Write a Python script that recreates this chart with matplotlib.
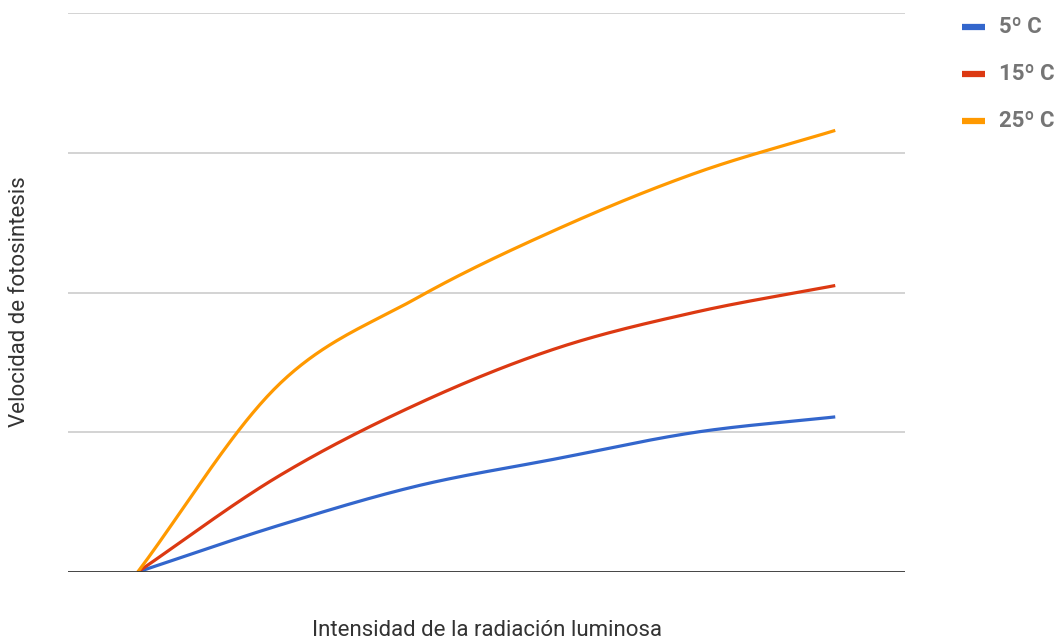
import numpy as np
import matplotlib
matplotlib.use("Agg")
import matplotlib.pyplot as plt
from matplotlib.lines import Line2D

# Light intensity steps (arbitrary units) and photosynthesis rate per temperature
intensity = [0, 1, 2, 3, 4, 5]
series_names = ["5º C", "15º C", "25º C"]
rate_5 = [0, 0.33, 0.615, 0.81, 1.00, 1.11]
rate_15 = [0, 0.68, 1.20, 1.60, 1.86, 2.05]
rate_25 = [0, 1.33, 1.96, 2.45, 2.855, 3.16]
colors = ["#3366cc", "#dc3912", "#ff9900"]

plt.rcParams["font.family"] = ["Roboto", "DejaVu Sans"]


def smooth(x, y, n=40, tension=0.5):
    """Catmull-Rom style smoothing between consecutive points."""
    x = np.asarray(x, float)
    y = np.asarray(y, float)
    xs, ys = [], []
    m = len(x)
    for i in range(m - 1):
        p0 = np.array([x[max(i - 1, 0)], y[max(i - 1, 0)]])
        p1 = np.array([x[i], y[i]])
        p2 = np.array([x[i + 1], y[i + 1]])
        p3 = np.array([x[min(i + 2, m - 1)], y[min(i + 2, m - 1)]])
        t1 = (p2 - p0) * tension
        t2 = (p3 - p1) * tension
        if i == 0:
            t1 = (p2 - p1) * 2 * tension
        if i == m - 2:
            t2 = (p2 - p1) * 2 * tension
        s = np.linspace(0, 1, n, endpoint=(i == m - 2))
        h00 = 2 * s**3 - 3 * s**2 + 1
        h10 = s**3 - 2 * s**2 + s
        h01 = -2 * s**3 + 3 * s**2
        h11 = s**3 - s**2
        pts = (np.outer(h00, p1) + np.outer(h10, t1)
               + np.outer(h01, p2) + np.outer(h11, t2))
        xs.append(pts[:, 0])
        ys.append(pts[:, 1])
    return np.concatenate(xs), np.concatenate(ys)


W, H = 1061, 639
fig = plt.figure(figsize=(W / 100, H / 100), dpi=100)
left, right, top, bottom = 68, 905, 13, 572
ax = fig.add_axes([left / W, 1 - bottom / H, (right - left) / W, (bottom - top) / H])

ax.set_xlim(-0.5, 5.5)
ax.set_ylim(0, 4)

for g in [1, 2, 3, 4]:
    ax.axhline(g, color="#cccccc", lw=1.2, zorder=1)
ax.axhline(0, color="#333333", lw=2.0, zorder=5)

for vals, c in zip([rate_5, rate_15, rate_25], colors):
    sx, sy = smooth(intensity, vals)
    ax.plot(sx, sy, color=c, lw=2.3, solid_capstyle="butt", zorder=3)

for s in ax.spines.values():
    s.set_visible(False)
ax.set_xticks([])
ax.set_yticks([])

fig.text(487 / W, 1 - 630 / H, "Intensidad de la radiación luminosa",
         ha="center", va="center", fontsize=16, color="#333333")
fig.text(20 / W, 1 - 302 / H, "Velocidad de fotosintesis",
         ha="center", va="center", rotation=90, fontsize=16, color="#333333")

# Legend on the right
for i, (name, c) in enumerate(zip(series_names, colors)):
    yc = 1 - (27 + 47 * i) / H
    fig.add_artist(Line2D([962 / W, 985 / W], [yc, yc], color=c, lw=4.5,
                          solid_capstyle="butt", transform=fig.transFigure))
    fig.text(999 / W, yc, name, ha="left", va="center", fontsize=16,
             fontweight="bold", color="#757575")

fig.savefig("out.png", dpi=100)
